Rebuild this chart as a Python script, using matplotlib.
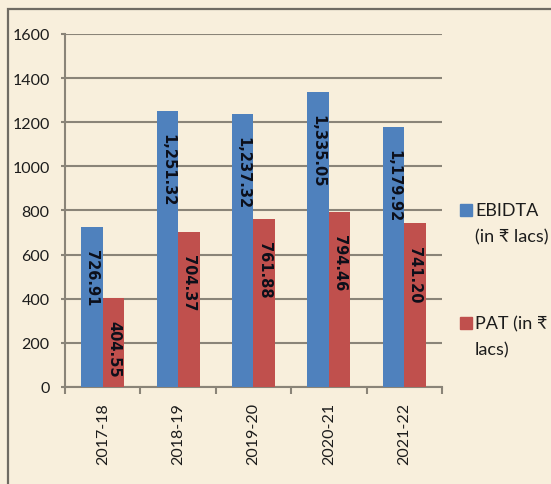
import matplotlib
matplotlib.use("Agg")
import matplotlib.pyplot as plt
from matplotlib.patches import Rectangle
import numpy as np

# chart data
years = ["2017-18", "2018-19", "2019-20", "2020-21", "2021-22"]
ebidta = [726.91, 1251.32, 1237.32, 1335.05, 1179.92]
pat = [404.55, 704.37, 761.88, 794.46, 741.20]
ebidta_labels = ["726.91", "1,251.32", "1,237.32", "1,335.05", "1,179.92"]
pat_labels = ["404.55", "704.37", "761.88", "794.46", "741.20"]
y_ticks = [0, 200, 400, 600, 800, 1000, 1200, 1400, 1600]

BG = "#f8efdc"
GRID = "#8a8478"
BLUE = "#4f81bd"
RED = "#c0504d"
TXT = "#1c1c1c"

plt.rcParams["font.family"] = ["Lato", "DejaVu Sans"]

fig = plt.figure(figsize=(5.51, 4.85), dpi=100, facecolor=BG)
ax = fig.add_axes([0.118, 0.2, 0.684, 0.728])
ax.set_facecolor(BG)

# outer frame of the chart (only left/top edges visible)
fig.patches.append(Rectangle((8 / 551, -0.1), 1.2, 1 - 10 / 485 + 0.1,
                             transform=fig.transFigure, fill=False,
                             edgecolor="#6f6b63", lw=1.6, zorder=0))

x = np.arange(len(years))
w = 0.285
ax.bar(x - w / 2, ebidta, w, color=BLUE, zorder=3)
ax.bar(x + w / 2, pat, w, color=RED, zorder=3)

# value labels, rotated, inside near the top of each bar
lbl_style = dict(rotation=-90, ha="center", va="top", fontsize=10.5,
                 fontweight="bold", family="DejaVu Sans", color="#0c0f1a", zorder=4)
for i in range(len(years)):
    ax.text(x[i] - w / 2, ebidta[i] - 100, ebidta_labels[i], **lbl_style)
    ax.text(x[i] + w / 2, pat[i] - 100, pat_labels[i], **lbl_style)

ax.set_xlim(-0.5, len(years) - 0.5)
ax.set_ylim(0, 1600)
ax.set_yticks(y_ticks)
ax.set_yticklabels([str(v) for v in y_ticks])
ax.yaxis.grid(True, color=GRID, lw=1.5, zorder=1)
ax.set_axisbelow(True)

# category boundaries get tick marks, centres get the labels
ax.set_xticks(np.arange(len(years) + 1) - 0.5)
ax.set_xticklabels([])
ax.set_xticks(x, minor=True)
ax.set_xticklabels(years, minor=True, rotation=90)
ax.tick_params(axis="x", which="major", length=5, width=1.5, color=GRID)
ax.tick_params(axis="x", which="minor", length=0, pad=11, labelsize=11.5,
               labelcolor=TXT)
ax.tick_params(axis="y", length=3, width=1.5, color=GRID, pad=8,
               labelsize=11.5, labelcolor=TXT)

for s in ["top", "right"]:
    ax.spines[s].set_visible(False)
for s in ["left", "bottom"]:
    ax.spines[s].set_color(GRID)
    ax.spines[s].set_linewidth(1.5)

# legend drawn by hand so the swatch sits on the first text line
legend_items = [(BLUE, "EBIDTA", "(in ₹ lacs)", 211), (RED, "PAT (in ₹", "lacs)", 324)]
for col, l1, l2, ypx in legend_items:
    fig.patches.append(Rectangle((460 / 551, 1 - (ypx + 6) / 485), 12 / 551, 12 / 485,
                                 transform=fig.transFigure, color=col))
    fig.text(475 / 551, 1 - ypx / 485, l1, fontsize=13, color=TXT, va="center")
    fig.text(475 / 551, 1 - (ypx + 26) / 485, l2, fontsize=13, color=TXT, va="center")

fig.savefig("out.png", dpi=100, facecolor=BG)
